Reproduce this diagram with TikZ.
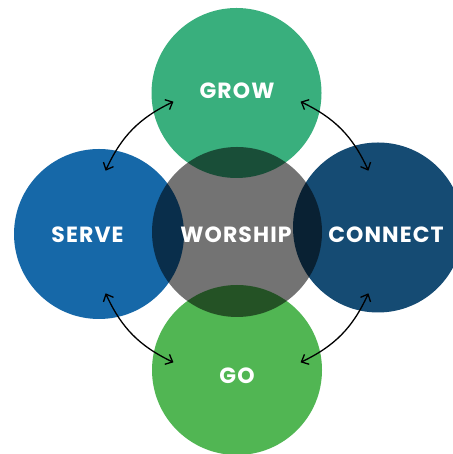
\documentclass[tikz,border=0pt]{standalone}
\usepackage{fontspec}
\setmainfont{Poppins}[LetterSpace=5]
\usepackage{tikz}
\usetikzlibrary{positioning, arrows.meta}
\definecolor{growgreen}{HTML}{39AF7D}
\definecolor{serveblue}{HTML}{1668A8}
\definecolor{connectblue}{HTML}{154B73}
\definecolor{worshipgray}{HTML}{737373}
\definecolor{gogreen}{HTML}{51B653}
\tikzset{
x=0.5pt, y=0.5pt, % one unit is one pixel of the reference
every circle node/.style={minimum size=85pt, inner sep=0pt, outer sep=0pt}, % all the circles have the same size
word/.style={text=white, font=\bfseries\fontsize{11}{11}\selectfont}, % the white labels
link/.style={<->, >={Straight Barb[length=3pt, width=5.5pt]}, line width=0.65pt, bend left=20}, % the curved arrows
}
\begin{document}
\begin{tikzpicture}
                \useasboundingbox (0,0) rectangle (453,454);
                \node[circle, fill=growgreen] (grow) at (236.5,361) {};
                \node[circle, fill=serveblue] (serve) at (99,220) {};
                \node[circle, fill=connectblue] (connect) at (378,226.5) {};
                \node[circle, fill=gogreen] (go) at (237,84) {};
                \begin{scope}[blend mode=multiply]
                    \node[circle, fill=worshipgray] (worship) at (237,222) {};
                \end{scope}
                \node[word] (growtext) at (237,363) {GROW};
                \node[word] (servetext) at (87.5,219) {SERVE};
                \node[word] (worshiptext) at (236,219) {WORSHIP};
                \node[word] (connecttext) at (386,219) {CONNECT};
                \node[word] (gotext) at (237,78) {GO};
                % arrow ends sit on a ring round the middle circle
                \foreach \a/\b/\n in {155/116/1, 64/25/2, 335/296/3, 244/205/4} {
                    \coordinate (s\n) at ([shift={(\a:145)}]worship.center);
                    \coordinate (e\n) at ([shift={(\b:145)}]worship.center);
                }
                \draw[link] (s1) to (e1);
                \draw[link] (s2) to (e2);
                \draw[link] (s3) to (e3);
                \draw[link] (s4) to (e4);
\end{tikzpicture}
\end{document}
